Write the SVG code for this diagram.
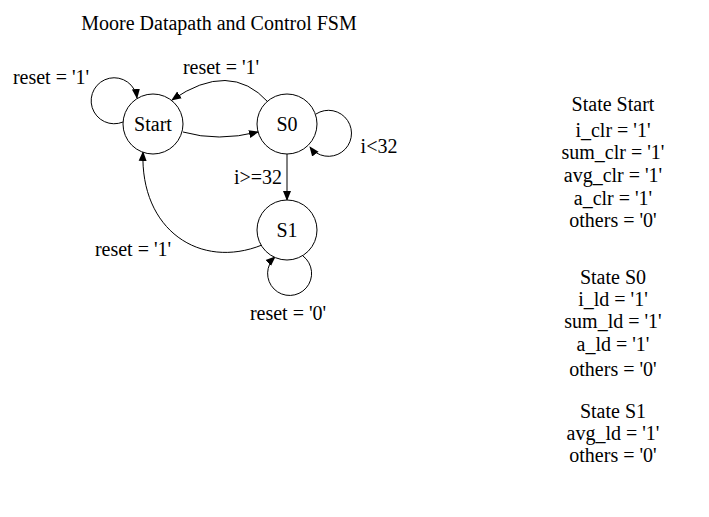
<svg xmlns="http://www.w3.org/2000/svg" width="709" height="517" viewBox="0 0 709 517">
<style>
text{font-family:"Liberation Serif","Times New Roman",serif;font-size:20px;fill:#000;text-anchor:middle}
.n{fill:#fff;stroke:#000;stroke-width:1}
.e{fill:none;stroke:#000;stroke-width:1;marker-end:url(#a)}
</style>
<defs>
<marker id="a" viewBox="0 0 10 10" refX="9" refY="5" markerWidth="10" markerHeight="10" markerUnits="userSpaceOnUse" orient="auto">
<path d="M0,1 L10,5 L0,9 z" fill="#000"/>
</marker>
</defs>
<rect width="709" height="517" fill="#fff"/>
<text x="219" y="30">Moore Datapath and Control FSM</text>
<g id="connectors">
<path class="e" d="M 123 122 A 23 23 0 1 1 137 98"/>
<path class="e" d="M 183 132 Q 218 142 258 132"/>
<path class="e" d="M 268 102 Q 230 60 172 100"/>
<path class="e" d="M 316 114 A 23 23 0 1 1 310 147"/>
<path class="e" d="M 287 154 L 287 200"/>
<path class="e" d="M 262 245 C 200 270 140 230 143 152"/>
<path class="e" d="M 303 256 A 22 22 0 1 1 275 257"/>
<text x="51" y="84">reset = '1'</text>
<text x="221" y="74">reset = '1'</text>
<text x="379" y="153">i&lt;32</text>
<text x="258" y="184">i&gt;=32</text>
<text x="133" y="256">reset = '1'</text>
<text x="288" y="320">reset = '0'</text>
</g>
<g id="Start"><circle class="n" cx="153" cy="124" r="30"/><text x="153" y="131">Start</text></g>
<g id="S0"><circle class="n" cx="287" cy="124" r="30"/><text x="287" y="131">S0</text></g>
<g id="S1"><circle class="n" cx="287" cy="230" r="30"/><text x="287" y="237">S1</text></g>
<g id="outputs">
<text x="613" y="111">State Start</text>
<text x="613" y="137">i_clr = '1'</text>
<text x="613" y="159">sum_clr = '1'</text>
<text x="613" y="182">avg_clr = '1'</text>
<text x="613" y="205">a_clr = '1'</text>
<text x="613" y="227">others = '0'</text>
<text x="613" y="284">State S0</text>
<text x="613" y="306">i_ld = '1'</text>
<text x="613" y="328">sum_ld = '1'</text>
<text x="613" y="351">a_ld = '1'</text>
<text x="613" y="376">others = '0'</text>
<text x="613" y="418">State S1</text>
<text x="613" y="440">avg_ld = '1'</text>
<text x="613" y="462">others = '0'</text>
</g>
</svg>
